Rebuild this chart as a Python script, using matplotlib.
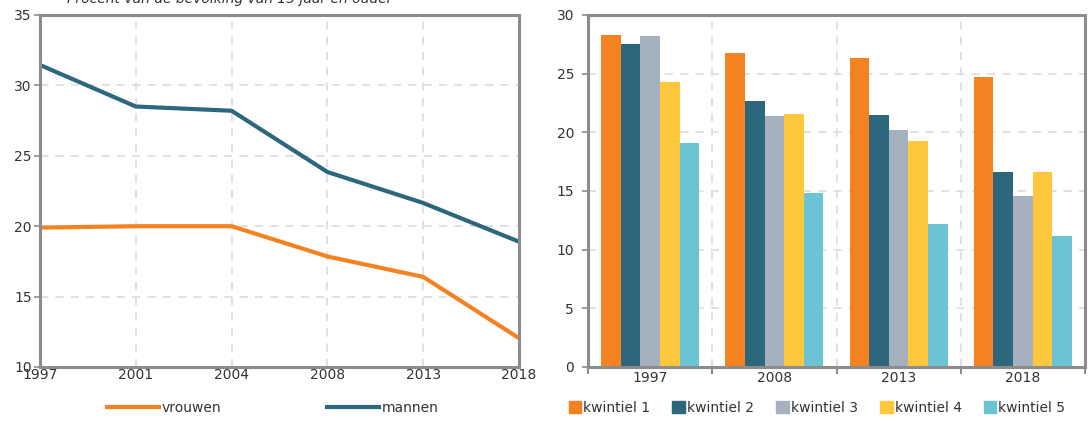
import numpy as np
import matplotlib.pyplot as plt
from matplotlib.lines import Line2D
from matplotlib.patches import Patch

plt.rcParams['font.family'] = ['DejaVu Sans']
plt.rcParams['font.size'] = 10

# linker grafiek
jaren_lijn = ['1997', '2001', '2004', '2008', '2013', '2018']
vrouwen = [19.9, 20.0, 20.0, 17.85, 16.4, 12.05]
mannen = [31.45, 28.5, 28.2, 23.85, 21.65, 18.9]

# rechter grafiek
jaren_staaf = ['1997', '2008', '2013', '2018']
kwintielen = ['kwintiel 1', 'kwintiel 2', 'kwintiel 3', 'kwintiel 4', 'kwintiel 5']
waarden = [
    [28.3, 26.8, 26.3, 24.7],
    [27.5, 22.7, 21.5, 16.6],
    [28.2, 21.4, 20.2, 14.6],
    [24.3, 21.6, 19.3, 16.6],
    [19.1, 14.8, 12.2, 11.2],
]

oranje = '#F58220'
blauw = '#2D677E'
kleuren = [oranje, blauw, '#A6B1BF', '#FFC73B', '#6BC4D4']
rand = '#8C8C8C'
raster = '#DEDEDE'
tekst = '#333333'
streep = (0, (4.5, 4))

W, H = 1088, 421
fig = plt.figure(figsize=(W / 100, H / 100), dpi=100)

def px_axes(x0, y0, x1, y1):
    return fig.add_axes([x0 / W, 1 - y1 / H, (x1 - x0) / W, (y1 - y0) / H])

def opmaak(ax):
    for s in ax.spines.values():
        s.set_color(rand)
        s.set_linewidth(2.2)
    ax.tick_params(colors=rand, labelcolor=tekst, length=4, width=1.2)
    ax.tick_params(axis='y', pad=2)

# links
ax1 = px_axes(40, 15, 519, 367)
x = np.arange(len(jaren_lijn))
ax1.plot(x, vrouwen, color=oranje, lw=3, solid_capstyle='butt')
ax1.plot(x, mannen, color=blauw, lw=3, solid_capstyle='butt')
ax1.set_xlim(0, len(jaren_lijn) - 1)
ax1.set_ylim(10, 35)
ax1.set_yticks(range(10, 36, 5))
ax1.set_xticks(x)
ax1.set_xticklabels(jaren_lijn)
ax1.grid(True, color=raster, ls=streep, lw=1.3)
ax1.set_axisbelow(True)
opmaak(ax1)
ax1.tick_params(axis='x', length=0, pad=1)

fig.text(230 / W, 1 - 3 / H, 'Procent van de bevolking van 15 jaar en ouder',
         style='italic', ha='center', va='baseline', color=tekst)

h1 = [Line2D([], [], color=oranje, lw=3), Line2D([], [], color=blauw, lw=3)]
fig.legend(h1, ['vrouwen', 'mannen'], loc='center', bbox_to_anchor=(273 / W, 1 - 408 / H),
           ncol=2, frameon=False, handlelength=3.7, handletextpad=0.25, columnspacing=7.6,
           labelcolor=tekst, fontsize=10)

# rechts
ax2 = px_axes(588, 15, 1085, 367)
xb = np.arange(len(jaren_staaf))
bw = 0.158
for i, (naam, reeks) in enumerate(zip(kwintielen, waarden)):
    ax2.bar(xb + (i - 2) * bw, reeks, width=bw, color=kleuren[i], label=naam)
ax2.set_xlim(-0.5, len(jaren_staaf) - 0.5)
ax2.set_ylim(0, 30)
ax2.set_yticks(range(0, 31, 5))
ax2.set_xticks(xb)
ax2.set_xticklabels(jaren_staaf)
ax2.set_xticks(np.arange(-0.5, len(jaren_staaf)), minor=True)
ax2.grid(True, axis='y', color=raster, ls=streep, lw=1.3)
ax2.grid(True, axis='x', which='minor', color=raster, ls=streep, lw=1.3)
ax2.set_axisbelow(True)
opmaak(ax2)
ax2.tick_params(axis='y', pad=6)
ax2.tick_params(axis='x', which='major', length=0, pad=3)
ax2.tick_params(axis='x', which='minor', length=5, width=1.5, color=rand)

h2 = [Patch(color=c) for c in kleuren]
fig.legend(h2, kwintielen, loc='center', bbox_to_anchor=(817 / W, 1 - 408 / H),
           ncol=5, frameon=False, handlelength=0.9, handleheight=0.9, handletextpad=0.15,
           columnspacing=1.6, labelcolor=tekst, fontsize=10)

fig.savefig('out.png', dpi=100)
